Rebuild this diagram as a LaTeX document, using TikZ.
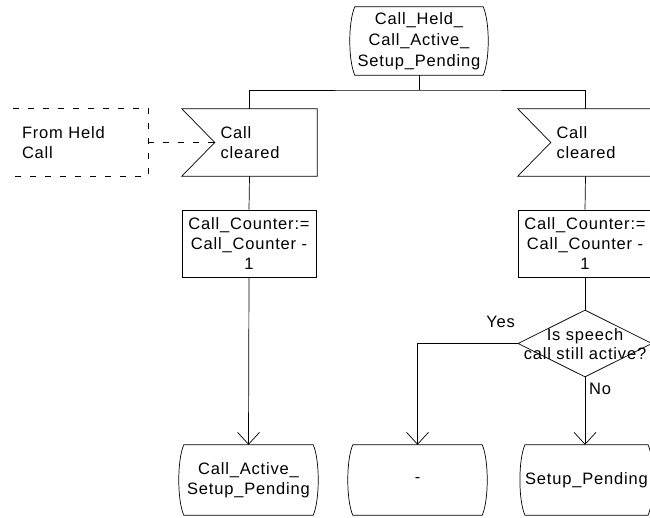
\documentclass[tikz,border=0pt]{standalone}
\usepackage{fontspec}
\setmainfont{Liberation Sans}[LetterSpace=5]
\usetikzlibrary{shapes.geometric,arrows.meta,calc}
\newcommand\drawstatebox[1]{%
  \draw[shapeline] (#1.north west) -- (#1.north east)
    .. controls ($(#1.north east)+(6.7,15)$) and ($(#1.south east)+(6.7,-15)$) .. (#1.south east)
    -- (#1.south west)
    .. controls ($(#1.south west)+(-6.7,-15)$) and ($(#1.north west)+(-6.7,15)$) .. cycle;}
\newcommand\drawinputbox[1]{%
  \draw[shapeline] (#1.north west) -- (#1.north east) -- (#1.south east) -- (#1.south west)
    -- ($(#1.west)+(33,0)$) -- cycle;}
\tikzset{
  shapeline/.style={line width=0.7pt},
  txt/.style={font=\fontsize{16.5}{20}\selectfont, inner sep=0pt},
  statebox/.style={txt, minimum height=68pt, align=center},
  inputbox/.style={txt, minimum width=135pt, minimum height=67pt, text width=58pt, align=left},
  taskbox/.style={txt, draw, shapeline, minimum width=134pt, minimum height=67pt, align=center},
  decbox/.style={draw, shapeline, diamond, minimum width=134pt, minimum height=67pt, inner sep=0pt, aspect=2},
  conn/.style={shapeline},
  arr/.style={shapeline, -{Straight Barb[length=12pt,width=22pt,line width=0.7pt]}},
  dashline/.style={shapeline, dash pattern=on 6pt off 9pt},
}
\begin{document}
\begin{tikzpicture}[x=1pt,y=-1pt]
\clip (0,0) rectangle (650,518);
\useasboundingbox (0,0) rectangle (650,518);
% top state
\node[statebox, minimum width=128pt, minimum height=68pt, font=\fontsize{16.5}{21}\selectfont] (s0) at (419,41) {Call\_Held\_\\Call\_Active\_\\Setup\_Pending};
\drawstatebox{s0}
\coordinate (j) at (419,90);
% input signals
\node[inputbox] (sigL) at (249.5,142.5) {Call\\cleared};
\drawinputbox{sigL}
\node[inputbox] (sigR) at (585.5,142.5) {Call\\cleared};
\drawinputbox{sigR}
% external dashed box
\node[txt, minimum width=135pt, minimum height=67pt, text width=117pt, align=left] (ext) at (80.5,142.5) {From Held\\Call};
\draw[dashline] (ext.north west) -- (ext.north east) -- (ext.south east) -- (ext.south west);
\draw[dashline] (ext.east) -- ($(sigL.west)+(33,0)$);
% tasks
\node[taskbox] (tL) at (249,243.5) {Call\_Counter:=\\Call\_Counter -\\1};
\node[taskbox] (tR) at (585,243.5) {Call\_Counter:=\\Call\_Counter -\\1};
% decision
\node[decbox] (dec) at (585,343.5) {};
\node[txt, align=center, font=\fontsize{16.5}{19}\selectfont] (dectxt) at ($(dec.center)+(0,1)$) {Is speech\\call still active?};
\node[txt] (yes) at ($(dec.west)+(-17,-22)$) {Yes};
\node[txt] (no) at ($(dec.south)+(15,12)$) {No};
% bottom states
\node[statebox, minimum width=129pt, minimum height=70pt] (stL) at (248.5,480) {Call\_Active\_\\Setup\_Pending};
\drawstatebox{stL}
\node[statebox, minimum width=129pt, minimum height=70pt] (stM) at (417.5,480) {-};
\drawstatebox{stM}
\node[statebox, minimum width=121pt, minimum height=70pt] (stR) at (586.5,480) {Setup\_Pending};
\drawstatebox{stR}
% connectors
\draw[conn] (s0.south) -- (j);
\draw[conn] (sigL.north) |- (j) -| (sigR.north);
\draw[conn] (sigL.south) -- (tL.north);
\draw[conn] (sigR.south) -- (tR.north);
\draw[arr] (tL.south) -- (stL.north);
\draw[conn] (tR.south) -- (dec.north);
\draw[arr] (dec.west) -| (stM.north);
\draw[arr] (dec.south) -- (dec.south |- stR.north);
\end{tikzpicture}
\end{document}
